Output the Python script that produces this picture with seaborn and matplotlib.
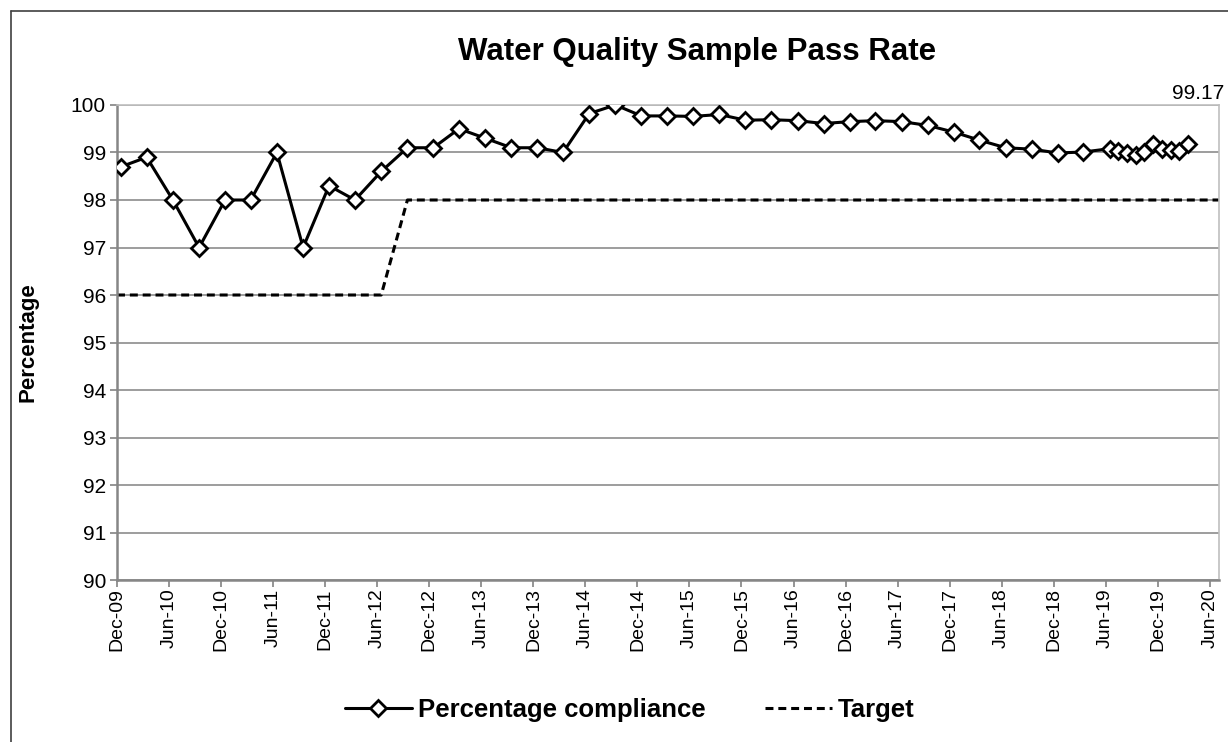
import numpy as np
import pandas as pd
import matplotlib
matplotlib.use("Agg")
import matplotlib.pyplot as plt
import matplotlib.dates as mdates
from matplotlib.lines import Line2D
import seaborn as sns

# ---- data ----
quarter_dates = pd.date_range("2009-12-01", "2019-03-01", freq="3MS") + pd.Timedelta(days=14)
monthly_dates = pd.date_range("2019-06-01", "2020-03-01", freq="MS") + pd.Timedelta(days=14)
compliance_quarterly = [98.7, 98.9, 98.0, 97.0, 98.0, 98.0, 99.0, 97.0, 98.3, 98.0,
                        98.6, 99.1, 99.1, 99.5, 99.3, 99.1, 99.1, 99.0, 99.82, 100.0,
                        99.77, 99.77, 99.76, 99.8, 99.68, 99.69, 99.67, 99.61, 99.65, 99.67,
                        99.65, 99.57, 99.43, 99.26, 99.1, 99.07, 98.99, 99.01]
compliance_monthly = [99.08, 99.03, 98.99, 98.94, 99.01, 99.17, 99.08, 99.05, 99.03, 99.17]
target_dates = pd.to_datetime(["2009-12-01", "2012-06-15", "2012-09-15", "2020-07-05"])
target_values = [96, 96, 98, 98]
last_label = "99.17"

comp_dates = list(quarter_dates) + list(monthly_dates)
comp_values = compliance_quarterly + compliance_monthly
df_comp = pd.DataFrame({"date": comp_dates, "value": comp_values})
df_target = pd.DataFrame({"date": target_dates, "value": target_values})

sns.set_theme(style="white")
plt.rcParams["font.family"] = ["Liberation Sans", "DejaVu Sans"]
plt.rcParams["text.color"] = "black"
plt.rcParams["axes.labelcolor"] = "black"
plt.rcParams["xtick.color"] = "black"
plt.rcParams["ytick.color"] = "black"

fig = plt.figure(figsize=(12.28, 7.42), dpi=100)
ax = fig.add_axes([0.0953, 0.2183, 0.8974, 0.6402])

sns.lineplot(data=df_target, x="date", y="value", ax=ax, color="black",
             linewidth=2.2, linestyle=(0, (2.6, 1.6)), zorder=2)
sns.lineplot(data=df_comp, x="date", y="value", ax=ax, color="black",
             linewidth=2.2, marker="D", markersize=7.8, markerfacecolor="white",
             markeredgecolor="black", markeredgewidth=2.0, zorder=3)

ax.set_ylim(90, 100)
ax.set_xlim(pd.Timestamp("2009-12-01"), pd.Timestamp("2020-07-03"))
ax.set_yticks(np.arange(90, 101, 1))
ax.xaxis.set_major_locator(mdates.MonthLocator(bymonth=[6, 12], bymonthday=1))
ax.xaxis.set_major_formatter(mdates.DateFormatter("%b-%y"))
ax.yaxis.grid(True, color="#8c8c8c", linewidth=1.2)
ax.xaxis.grid(False)

for lab in ax.get_xticklabels():
    lab.set_rotation(90)
ax.tick_params(axis="x", labelsize=14, length=5, width=1.3, color="#8c8c8c",
               labelcolor="black", direction="out", pad=1, bottom=True)
ax.tick_params(axis="y", labelsize=15, length=5, width=1.3, color="#8c8c8c",
               labelcolor="black", direction="out", pad=3, left=True)

for side in ["left", "bottom"]:
    ax.spines[side].set_color("#868686")
    ax.spines[side].set_linewidth(1.8)
for side in ["right", "top"]:
    ax.spines[side].set_color("#bfbfbf")
    ax.spines[side].set_linewidth(1.2)

ax.set_xlabel("")
ax.set_ylabel("Percentage", fontsize=16, fontweight="bold", labelpad=8, color="black")
ax.yaxis.set_label_coords(-0.071, 0.5)

fig.text(0.568, 0.93, "Water Quality Sample Pass Rate", ha="center", va="center",
         fontsize=22.5, fontweight="bold", color="black")

ax.annotate(last_label, (comp_dates[-1], comp_values[-1]), xytext=(-11.5, 30),
            textcoords="offset points", fontsize=15, ha="left", va="bottom",
            color="black", annotation_clip=False)

handles = [Line2D([0], [0], color="black", lw=2.2, marker="D", markersize=7.8,
                  markerfacecolor="white", markeredgecolor="black", markeredgewidth=2.0),
           Line2D([0], [0], color="black", lw=2.2, linestyle=(0, (2.6, 1.6)))]
leg = fig.legend(handles, ["Percentage compliance", "Target"], loc="center",
                 bbox_to_anchor=(0.513, 0.043), ncol=2, frameon=False,
                 prop={"size": 18.5, "weight": "bold"}, handlelength=2.6,
                 columnspacing=2.3, handletextpad=0.25, labelcolor="black")

# outer chart border (top & left visible)
fig.add_artist(Line2D([0.009, 0.009], [0, 0.985], transform=fig.transFigure, color="#404040", lw=1.2))
fig.add_artist(Line2D([0.009, 1.0], [0.985, 0.985], transform=fig.transFigure, color="#404040", lw=1.2))

fig.savefig("out.png", dpi=100)
